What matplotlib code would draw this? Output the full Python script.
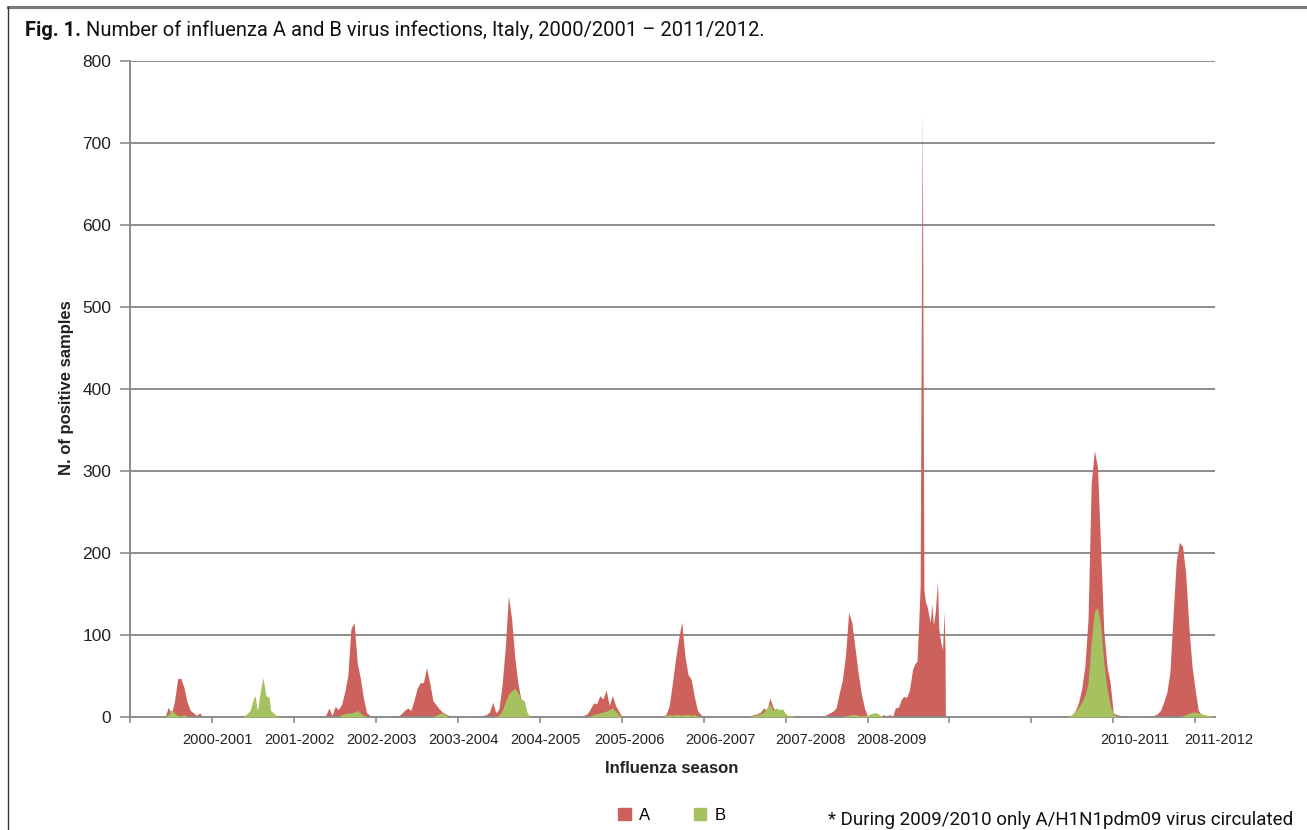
import numpy as np
import matplotlib
matplotlib.use("Agg")
import matplotlib.pyplot as plt
from matplotlib.patches import Patch
from matplotlib.lines import Line2D
import matplotlib.transforms as mtransforms

# season labels and where they sit on the week axis
season_labels = ["2000-2001", "2001-2002", "2002-2003", "2003-2004", "2004-2005",
                 "2005-2006", "2006-2007", "2007-2008", "2008-2009",
                 "2010-2011", "2011-2012"]
label_weeks = [27.6, 53.6, 79.6, 105.6, 131.6, 158.5, 187.4, 215.9, 241.6, 319.0, 345.6]

# influenza A, weekly positives (zeros between epidemics)
a_weeks = [11, 12, 13, 14, 15, 16, 17, 18, 19, 20, 21, 22, 23,
           38, 39.5, 40.3, 41, 42,
           61, 62, 63, 64, 65, 66, 67, 68, 69, 70, 71, 72, 73, 74, 75, 76, 77,
           83, 84, 85, 86, 87, 88, 89, 90, 91, 92, 93, 94, 95, 96, 97, 98, 99, 100, 101, 102,
           110, 111, 112, 113, 114, 115, 116, 117, 118, 119, 120, 121, 122, 123, 124, 125, 126, 127,
           142, 143, 144, 145, 146, 147, 148, 149, 150, 151, 152, 153, 154, 155, 156, 157,
           167, 168, 169, 170, 171, 172, 173, 174, 175, 176, 177, 178, 179, 180, 181, 182,
           196, 197, 198, 199, 200, 201, 202, 203, 204, 205, 206, 207, 208, 209, 210, 211,
           219, 220, 221, 222, 223, 224, 225, 226, 227, 228, 229, 230, 231, 232, 233, 234, 235,
           238, 239, 240, 241, 242, 242.8, 243.8, 244.8, 245.5, 246.4, 247.3, 248.3, 249, 249.7,
           250.3, 250.7, 251.35, 251.9, 252.4, 252.9, 253.4, 253.9, 254.4, 254.9, 255.5, 256.2,
           256.6, 257.2, 257.8, 258.3, 258.6, 258.7,
           297, 298, 299, 300, 301, 302, 303, 304, 305, 306, 307, 308, 309, 310, 311, 312, 313, 314, 315, 316,
           323, 324, 325, 326, 327, 328, 329, 330, 331, 332, 333, 334, 335, 336, 337, 338, 339, 340, 341, 342, 343, 344]
a_counts = [0, 12, 4, 20, 47, 47, 36, 18, 8, 5, 2, 5, 0,
            0, 3, 10, 3, 0,
            0, 2, 11, 2, 13, 9, 15, 30, 50, 108, 115, 66, 47, 22, 5, 2, 0,
            0, 2, 1, 4, 8, 11, 8, 20, 35, 42, 42, 60, 42, 20, 15, 10, 6, 4, 2, 0,
            0, 1, 2, 3, 6, 18, 5, 10, 40, 85, 148, 120, 73, 41, 21, 12, 4, 0,
            0, 1, 2, 4, 10, 17, 16, 26, 22, 33, 14, 26, 14, 7, 1, 0,
            0, 1, 1, 3, 13, 40, 70, 95, 116, 75, 52, 46, 25, 8, 3, 0,
            0, 2, 3, 4, 6, 11, 8, 23, 12, 6, 4, 2, 1, 1, 1, 0,
            0, 1, 3, 5, 7, 11, 29, 45, 75, 128, 115, 85, 54, 29, 11, 1, 0,
            0, 3, 1, 3, 1, 11, 12, 22, 25, 24, 33, 58, 65, 68,
            120, 160, 740, 155, 140, 135, 125, 115, 138, 112, 128, 165,
            108, 92, 82, 128, 80, 0,
            0, 1, 3, 8, 18, 35, 62, 120, 285, 325, 305, 205, 105, 62, 42, 5, 3, 2, 1, 0,
            0, 1, 2, 4, 8, 18, 30, 55, 125, 190, 213, 208, 175, 110, 62, 33, 8, 3, 2, 1, 1, 0]

# influenza B, weekly positives
b_weeks = [11, 12, 13, 14, 15, 16, 17, 18, 19,
           35, 36, 37, 38, 39, 39.6, 40.3, 41, 42, 42.6, 43, 44, 44.5, 45.7, 47,
           66, 67, 68, 69, 70, 71, 72, 73, 74, 75,
           96, 97, 98, 99, 100, 101,
           116, 117, 118, 119, 120, 121, 122, 123, 124, 125, 126, 127,
           145, 146, 147, 148, 149, 150, 151, 152, 153, 154, 155, 156,
           169, 170, 171, 172, 173, 174, 175, 176, 177, 178, 179, 180, 181,
           196, 197, 198, 199, 200, 201, 202, 203, 204, 205, 206, 207, 208, 209, 210, 211,
           226, 227, 228, 229, 230, 231, 232, 233, 234, 235, 236, 237, 238, 239,
           297, 298, 299, 300, 301, 302, 303, 304, 305, 306, 307, 308, 309, 310, 311, 312, 313, 314,
           333, 334, 335, 336, 337, 338, 339, 340, 341, 342, 343, 344]
b_counts = [0, 3, 9, 5, 2, 1, 3, 1, 0,
            0, 1, 4, 8, 22, 26, 6, 26, 48, 37, 26, 24, 8, 4, 0,
            0, 3, 4, 5, 5, 6, 8, 5, 2, 0,
            0, 2, 4, 5, 3, 0,
            0, 2, 8, 18, 28, 32, 35, 30, 22, 20, 4, 0,
            0, 1, 3, 4, 5, 6, 7, 9, 11, 7, 3, 0,
            0, 2, 3, 2, 3, 3, 2, 3, 3, 2, 3, 1, 0,
            0, 1, 2, 3, 4, 6, 11, 16, 8, 11, 9, 10, 4, 1, 2, 0,
            0, 1, 2, 3, 3, 2, 1, 2, 2, 4, 5, 5, 2, 0,
            0, 1, 3, 7, 12, 18, 26, 42, 92, 128, 134, 112, 66, 35, 15, 4, 1, 0,
            0, 1, 3, 4, 6, 6, 5, 4, 3, 2, 1, 0]

red = "#CD615B"
green = "#A6C160"
grey = "#8c8c8c"
W, H = 1307, 830

fig = plt.figure(figsize=(W / 100, H / 100), dpi=100)
ax = fig.add_axes([129.5 / W, 1 - 717 / H, (1215 - 129.5) / W, (717 - 61) / H])

ax.fill_between(a_weeks, a_counts, color=red, lw=0, zorder=2)
ax.fill_between(b_weeks, b_counts, color=green, lw=0, zorder=3)

ax.set_xlim(-0.3, 344.3)
ax.set_ylim(0, 800)
ax.set_yticks(range(0, 801, 100))
ax.set_xticks(np.arange(14) * 26)
ax.set_xticklabels([])
ax.yaxis.grid(True, color=grey, lw=1.4, zorder=1)
ax.set_axisbelow(True)
for s in ["top", "right"]:
    ax.spines[s].set_visible(False)
for s in ["left", "bottom"]:
    ax.spines[s].set_color(grey)
    ax.spines[s].set_linewidth(1.4)
ax.tick_params(axis="y", length=7, width=1.2, color=grey, labelsize=12.5,
               labelcolor="#222222", pad=6)
ax.tick_params(axis="x", length=4, width=1.2, color=grey)
for lab in ax.get_yticklabels():
    lab.set_family("Liberation Sans")

trans = mtransforms.blended_transform_factory(ax.transData, ax.transAxes)
for lab, w in zip(season_labels, label_weeks):
    ax.text(w, -23 / 656, lab, transform=trans, ha="center", va="center",
            fontsize=10.5, family="Liberation Sans", color="#222222", clip_on=False)

fig.text(67 / W, 1 - 388 / H, "N. of positive samples", rotation=90, ha="center",
         va="center", fontsize=12, fontweight="bold", family="Liberation Sans", color="#222222")
fig.text(672 / W, 1 - 768 / H, "Influenza season", ha="center", va="center",
         fontsize=12, fontweight="bold", family="Liberation Sans", color="#222222")

fig.legend(handles=[Patch(color=red, label="A"), Patch(color=green, label="B")],
           loc="center", bbox_to_anchor=(672 / W, 1 - 815 / H), ncol=2, frameon=False,
           handlelength=0.75, handleheight=0.75, handletextpad=0.5, columnspacing=2.6,
           prop={"family": "Liberation Sans", "size": 12})

fig.text(828 / W, 1 - 820 / H, "* During 2009/2010 only A/H1N1pdm09 virus circulated",
         ha="left", va="center", fontsize=13.5, family="Roboto", color="#111111")

# title: bold "Fig. 1." then the rest
t1 = fig.text(25 / W, 1 - 30 / H, "Fig. 1.", ha="left", va="center", fontsize=14.5,
              fontweight="bold", family="Roboto", color="#111111")
fig.canvas.draw()
bb = t1.get_window_extent()
fig.text((bb.x1 + 5) / W, 1 - 30 / H,
         "Number of influenza A and B virus infections, Italy, 2000/2001 \u2013 2011/2012.",
         ha="left", va="center", fontsize=14.5, family="Roboto", color="#111111")

# frame lines at the top and left of the figure
fig.add_artist(Line2D([8 / W, 1], [1 - 7 / H, 1 - 7 / H], transform=fig.transFigure,
                      color="#7a7a7a", lw=2.2))
fig.add_artist(Line2D([8 / W, 8 / W], [1 - 7 / H, 0], transform=fig.transFigure,
                      color="#333333", lw=1.0))

fig.savefig("out.png", dpi=100)
